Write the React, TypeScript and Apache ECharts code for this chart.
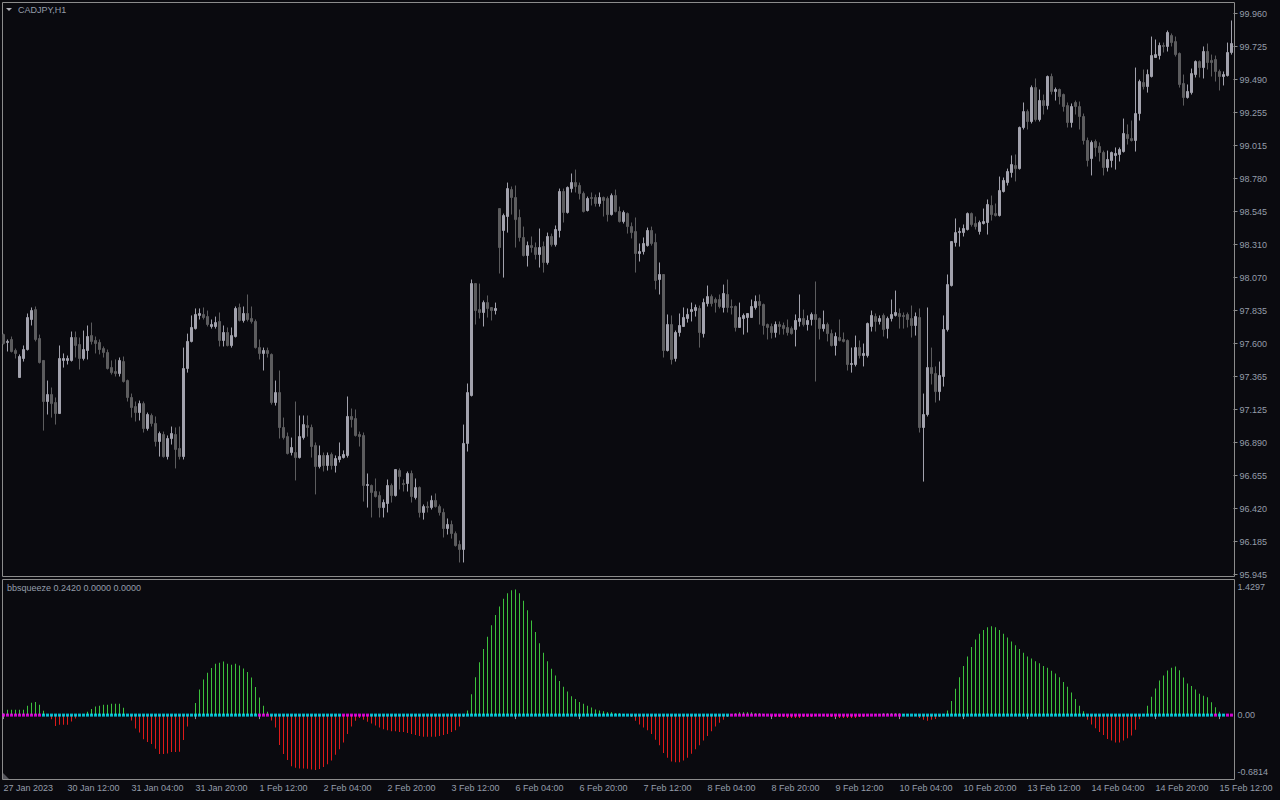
import React, { useEffect, useRef } from 'react';
import * as echarts from 'echarts';

// price axis labels (bottom to top)
const priceTicks = ['95.945','96.185','96.420','96.655','96.890','97.125','97.365','97.600','97.835','98.070','98.310','98.545','98.780','99.015','99.255','99.490','99.725','99.960'];
// time axis labels, one every 16 bars
const timeTicks = ['27 Jan 2023','30 Jan 12:00','31 Jan 04:00','31 Jan 20:00','1 Feb 12:00','2 Feb 04:00','2 Feb 20:00','3 Feb 12:00','6 Feb 04:00','6 Feb 20:00','7 Feb 12:00','8 Feb 04:00','8 Feb 20:00','9 Feb 12:00','10 Feb 04:00','10 Feb 20:00','13 Feb 12:00','14 Feb 04:00','14 Feb 20:00','15 Feb 12:00'];

// [open, close, low, high]
const ohlc: number[][] = [
[97.662,97.598,97.591,97.669],[97.606,97.613,97.541,97.627],[97.627,97.541,97.534,97.648],[97.548,97.527,97.491,97.562],[97.355,97.505,97.355,97.520],
[97.491,97.555,97.469,97.584],[97.555,97.784,97.548,97.813],[97.770,97.834,97.727,97.856],[97.841,97.627,97.613,97.863],[97.634,97.462,97.455,97.662],
[97.477,97.183,96.975,97.477],[97.183,97.233,97.090,97.333],[97.233,97.168,97.068,97.283],[97.176,97.097,97.018,97.212],[97.097,97.491,97.097,97.584],
[97.477,97.491,97.426,97.527],[97.477,97.491,97.448,97.512],[97.477,97.641,97.469,97.684],[97.641,97.584,97.498,97.684],[97.591,97.491,97.412,97.641],
[97.491,97.555,97.477,97.691],[97.548,97.648,97.484,97.727],[97.655,97.613,97.591,97.748],[97.620,97.598,97.527,97.648],[97.606,97.555,97.520,97.627],
[97.562,97.534,97.498,97.577],[97.534,97.419,97.412,97.555],[97.426,97.390,97.376,97.477],[97.398,97.383,97.362,97.484],[97.383,97.477,97.362,97.498],
[97.469,97.326,97.319,97.505],[97.333,97.212,97.183,97.340],[97.212,97.140,97.068,97.240],[97.147,97.104,97.040,97.183],[97.104,97.168,97.047,97.190],
[97.168,96.990,96.961,97.183],[96.990,97.090,96.975,97.104],[97.083,97.026,97.004,97.097],[97.026,96.897,96.861,97.076],[96.897,96.954,96.789,96.968],
[96.947,96.789,96.782,96.968],[96.789,96.918,96.768,96.940],[96.918,96.954,96.875,97.004],[96.947,96.840,96.704,96.997],[96.847,96.789,96.768,97.004],
[96.789,97.419,96.768,97.569],[97.419,97.613,97.390,97.669],[97.613,97.713,97.606,97.799],[97.705,97.806,97.698,97.849],[97.799,97.813,97.770,97.849],
[97.806,97.784,97.770,97.856],[97.791,97.734,97.720,97.834],[97.720,97.734,97.705,97.770],[97.720,97.748,97.705,97.791],[97.756,97.620,97.577,97.820],
[97.620,97.677,97.577,97.727],[97.677,97.584,97.577,97.713],[97.584,97.655,97.569,97.713],[97.648,97.849,97.641,97.863],[97.856,97.763,97.756,97.884],
[97.763,97.813,97.748,97.863],[97.813,97.770,97.756,97.949],[97.777,97.756,97.741,97.863],[97.756,97.569,97.562,97.770],[97.569,97.527,97.484,97.627],
[97.527,97.548,97.405,97.569],[97.548,97.527,97.498,97.569],[97.520,97.176,97.161,97.527],[97.176,97.247,97.154,97.333],[97.247,96.997,96.918,97.405],
[96.997,96.925,96.911,97.068],[96.932,96.811,96.804,96.961],[96.818,96.854,96.797,96.925],[96.818,96.782,96.618,97.183],[96.782,96.932,96.775,97.083],
[96.925,97.018,96.911,97.083],[97.011,96.997,96.932,97.083],[96.997,96.861,96.782,97.018],[96.868,96.718,96.518,96.890],[96.718,96.797,96.704,96.868],
[96.797,96.725,96.682,96.818],[96.725,96.797,96.689,96.818],[96.804,96.725,96.696,96.818],[96.725,96.775,96.675,96.797],[96.768,96.789,96.747,96.890],
[96.782,96.804,96.775,96.833],[96.797,97.076,96.782,97.219],[97.076,97.054,96.997,97.133],[97.061,96.940,96.932,97.126],[96.947,96.932,96.861,96.968],
[96.940,96.582,96.467,96.961],[96.582,96.589,96.424,96.668],[96.582,96.532,96.353,96.589],[96.539,96.503,96.496,96.632],[96.510,96.424,96.353,96.539],
[96.424,96.460,96.353,96.482],[96.453,96.582,96.389,96.625],[96.582,96.510,96.460,96.596],[96.510,96.696,96.503,96.696],[96.689,96.646,96.553,96.704],
[96.596,96.589,96.539,96.625],[96.596,96.668,96.539,96.682],[96.668,96.503,96.460,96.689],[96.496,96.567,96.482,96.632],[96.567,96.389,96.353,96.575],
[96.389,96.431,96.338,96.446],[96.431,96.424,96.389,96.467],[96.424,96.475,96.410,96.510],[96.475,96.431,96.424,96.525],[96.431,96.389,96.367,96.446],
[96.389,96.274,96.210,96.417],[96.274,96.303,96.231,96.346],[96.303,96.238,96.202,96.331],[96.238,96.152,96.145,96.253],[96.160,96.124,96.031,96.188],
[96.124,96.883,96.031,97.018],[96.883,97.247,96.825,97.312],[97.226,98.027,97.219,98.056],[98.027,97.834,97.734,98.027],[97.841,97.820,97.777,98.027],
[97.820,97.891,97.720,97.906],[97.891,97.849,97.784,97.942],[97.856,97.834,97.763,97.856],[97.834,97.849,97.806,97.891],[98.564,98.285,98.099,98.564],
[98.407,98.514,98.070,98.528],[98.507,98.707,98.392,98.750],[98.700,98.643,98.521,98.722],[98.643,98.485,98.285,98.729],[98.500,98.357,98.328,98.557],
[98.357,98.228,98.221,98.435],[98.228,98.299,98.149,98.328],[98.299,98.285,98.249,98.364],[98.285,98.235,98.199,98.321],[98.235,98.285,98.142,98.421],
[98.292,98.178,98.106,98.328],[98.178,98.364,98.163,98.392],[98.364,98.306,98.292,98.385],[98.306,98.414,98.292,98.443],[98.407,98.686,98.357,98.707],
[98.686,98.536,98.464,98.707],[98.536,98.715,98.528,98.722],[98.707,98.750,98.679,98.815],[98.750,98.722,98.679,98.843],[98.729,98.672,98.629,98.750],
[98.672,98.543,98.536,98.686],[98.550,98.636,98.543,98.650],[98.643,98.636,98.586,98.679],[98.643,98.600,98.578,98.664],[98.600,98.643,98.578,98.679],
[98.643,98.622,98.507,98.650],[98.636,98.521,98.471,98.650],[98.521,98.657,98.514,98.672],[98.657,98.543,98.536,98.700],[98.543,98.471,98.464,98.578],
[98.471,98.536,98.457,98.550],[98.528,98.435,98.385,98.536],[98.435,98.392,98.350,98.464],[98.400,98.242,98.106,98.500],[98.242,98.256,98.185,98.314],
[98.256,98.314,98.235,98.357],[98.299,98.407,98.292,98.428],[98.407,98.314,98.299,98.435],[98.321,98.049,97.985,98.385],[98.056,98.092,97.949,98.178],
[98.092,97.548,97.498,98.092],[97.548,97.734,97.541,97.806],[97.734,97.484,97.448,97.799],[97.491,97.677,97.469,97.691],[97.677,97.727,97.648,97.813],
[97.720,97.784,97.720,97.856],[97.777,97.806,97.748,97.849],[97.827,97.841,97.756,97.891],[97.834,97.856,97.791,97.877],[97.849,97.677,97.569,97.870],
[97.669,97.891,97.641,97.920],[97.884,97.934,97.863,98.013],[97.934,97.884,97.863,97.949],[97.913,97.891,97.820,97.927],[97.913,97.863,97.849,97.949],
[97.856,97.956,97.820,98.020],[97.949,97.856,97.820,98.056],[97.863,97.856,97.806,97.913],[97.863,97.713,97.684,97.870],[97.713,97.784,97.713,97.891],
[97.777,97.799,97.662,97.813],[97.784,97.813,97.677,97.813],[97.784,97.863,97.784,97.913],[97.856,97.899,97.841,97.942],[97.899,97.870,97.734,97.949],
[97.877,97.727,97.662,97.884],[97.734,97.713,97.627,97.741],[97.720,97.677,97.634,97.741],[97.677,97.734,97.641,97.756],[97.734,97.720,97.662,97.756],
[97.727,97.705,97.662,97.748],[97.713,97.677,97.655,97.770],[97.705,97.669,97.662,97.720],[97.698,97.763,97.577,97.806],[97.756,97.777,97.720,97.949],
[97.777,97.734,97.720,97.841],[97.734,97.763,97.691,97.799],[97.770,97.806,97.727,97.820],[97.806,97.770,97.326,98.042],[97.777,97.705,97.627,97.784],
[97.705,97.734,97.684,97.834],[97.734,97.669,97.613,97.748],[97.669,97.584,97.577,97.698],[97.584,97.648,97.512,97.677],[97.641,97.620,97.613,97.770],
[97.627,97.613,97.606,97.677],[97.620,97.448,97.405,97.627],[97.448,97.455,97.390,97.569],[97.448,97.569,97.434,97.655],[97.569,97.512,97.491,97.620],
[97.512,97.527,97.434,97.598],[97.512,97.741,97.498,97.748],[97.720,97.799,97.684,97.834],[97.791,97.756,97.684,97.813],[97.756,97.777,97.734,97.799],
[97.799,97.698,97.648,97.813],[97.705,97.777,97.634,97.791],[97.777,97.806,97.756,97.913],[97.799,97.820,97.791,97.977],[97.813,97.791,97.705,97.849],
[97.799,97.791,97.705,97.820],[97.806,97.770,97.713,97.820],[97.777,97.727,97.641,97.870],[97.727,97.791,97.655,97.820],[97.784,96.997,96.961,97.849],
[96.997,97.090,96.610,97.240],[97.090,97.426,97.076,97.856],[97.426,97.383,97.305,97.569],[97.383,97.254,97.176,97.434],[97.254,97.369,97.190,97.469],
[97.362,97.698,97.290,97.799],[97.698,98.020,97.684,98.092],[98.013,98.328,98.006,98.328],[98.321,98.392,98.292,98.493],[98.392,98.400,98.292,98.428],
[98.392,98.421,98.364,98.450],[98.414,98.528,98.407,98.536],[98.528,98.450,98.435,98.536],[98.457,98.435,98.414,98.507],[98.400,98.464,98.378,98.478],
[98.457,98.471,98.450,98.564],[98.464,98.593,98.378,98.629],[98.586,98.521,98.478,98.657],[98.528,98.514,98.507,98.600],[98.514,98.693,98.507,98.793],
[98.686,98.765,98.679,98.786],[98.750,98.829,98.729,98.850],[98.822,98.879,98.786,98.944],[98.872,98.850,98.758,98.951],[98.850,99.144,98.843,99.151],
[99.144,99.258,99.130,99.323],[99.258,99.187,99.130,99.273],[99.187,99.430,99.173,99.445],[99.430,99.201,99.187,99.495],[99.201,99.337,99.187,99.416],
[99.337,99.301,99.237,99.380],[99.301,99.509,99.273,99.516],[99.509,99.402,99.380,99.530],[99.402,99.416,99.337,99.430],[99.416,99.366,99.309,99.423],
[99.380,99.294,99.258,99.387],[99.301,99.180,99.144,99.323],[99.180,99.294,99.144,99.316],[99.323,99.294,99.237,99.337],[99.294,99.223,99.130,99.330],
[99.223,99.051,99.022,99.244],[99.051,98.908,98.865,99.072],[98.922,99.037,98.801,99.051],[99.044,99.001,98.936,99.058],[99.008,98.965,98.901,99.037],
[98.965,98.858,98.801,98.979],[98.858,98.915,98.829,98.979],[98.908,98.965,98.858,98.972],[98.944,98.958,98.843,99.001],[98.951,98.987,98.901,99.001],
[98.972,99.101,98.965,99.208],[99.094,99.065,99.022,99.166],[99.065,99.051,99.044,99.194],[99.051,99.244,98.972,99.573],[99.244,99.473,99.194,99.487],
[99.466,99.437,99.416,99.559],[99.437,99.523,99.394,99.559],[99.509,99.659,99.502,99.795],[99.645,99.666,99.645,99.774],[99.659,99.731,99.631,99.752],
[99.731,99.724,99.681,99.752],[99.724,99.824,99.688,99.838],[99.802,99.752,99.724,99.817],[99.759,99.666,99.652,99.795],[99.674,99.452,99.430,99.681],
[99.459,99.359,99.301,99.523],[99.359,99.402,99.351,99.452],[99.394,99.530,99.380,99.566],[99.523,99.616,99.502,99.624],[99.616,99.573,99.502,99.624],
[99.573,99.688,99.495,99.724],[99.688,99.609,99.559,99.745],[99.624,99.609,99.509,99.666],[99.631,99.545,99.473,99.659],[99.545,99.509,99.409,99.559],
[99.509,99.523,99.445,99.545],[99.516,99.681,99.509,99.752],[99.681,99.745,99.666,99.910]
];

// bbsqueeze momentum histogram, one value per bar
const squeeze: number[] = [
0.02,0.057,0.057,0.057,0.057,0.057,0.099,0.131,0.139,0.110,0.046,-0.005,-0.043,-0.114,-0.103,-0.103,-0.103,-0.068,-0.036,-0.005,
0.005,0.036,0.064,0.092,0.099,0.110,0.110,0.121,0.121,0.121,0.078,-0.005,-0.057,-0.142,-0.185,-0.256,-0.284,-0.306,-0.355,-0.412,
-0.412,-0.405,-0.391,-0.391,-0.387,-0.263,-0.121,0.005,0.128,0.270,0.376,0.448,0.498,0.544,0.554,0.568,0.544,0.533,0.544,0.526,
0.494,0.455,0.398,0.298,0.185,0.099,0.036,-0.057,-0.131,-0.316,-0.412,-0.476,-0.540,-0.558,-0.565,-0.565,-0.568,-0.576,
-0.58,-0.57,-0.55,-0.52,-0.48,-0.42,-0.36,-0.29,-0.2,-0.12,
-0.06,-0.03,-0.05,-0.07,-0.09,-0.11,-0.13,-0.15,-0.16,-0.17,
-0.17,-0.18,-0.18,-0.19,-0.2,-0.21,-0.22,-0.23,-0.23,-0.23,
-0.23,-0.22,-0.21,-0.2,-0.18,-0.16,-0.12,-0.02,
0.05,0.22,0.4,0.56,0.7,0.83,0.95,1.06,1.15,1.23,
1.29,1.32,1.33,1.29,1.21,1.11,1.0,0.88,0.76,0.66,
0.57,0.49,0.42,0.36,0.3,0.25,0.2,0.17,0.14,0.12,
0.1,0.08,0.06,0.05,0.04,0.03,0.03,0.02,0.02,0.01,0.0,
-0.02,-0.06,-0.1,-0.13,-0.16,-0.2,-0.26,-0.32,-0.4,-0.45,
-0.49,-0.5,-0.5,-0.48,-0.45,-0.41,-0.36,-0.32,-0.27,-0.22,
-0.17,-0.12,-0.08,-0.05,
-0.02,0.01,0.02,0.03,0.03,0.03,0.03,0.02,0.02,0.01,
0.0,-0.01,-0.02,-0.02,-0.02,-0.03,-0.03,-0.03,-0.03,-0.02,
-0.02,-0.02,-0.01,-0.01,-0.01,-0.02,-0.02,-0.02,-0.03,-0.03,
-0.03,-0.03,-0.03,-0.02,-0.02,-0.01,0.0,0.01,0.01,0.02,
0.02,0.02,0.02,0.02,0.01,0.01,0.0,-0.01,-0.03,-0.05,
-0.06,-0.05,-0.04,-0.02,0.01,
0.05,0.15,0.28,0.4,0.52,0.62,0.72,0.8,0.86,0.9,
0.93,0.94,0.93,0.9,0.86,0.82,0.78,0.74,0.7,0.66,
0.62,0.6,0.57,0.55,0.52,0.5,0.47,0.44,0.4,0.35,
0.3,0.24,0.17,0.1,0.04,-0.05,-0.1,-0.14,-0.18,
-0.21,-0.252,-0.270,-0.291,-0.291,-0.270,-0.245,-0.217,-0.156,-0.043,
0.005,0.099,0.195,0.281,0.366,0.419,0.472,0.501,0.515,0.476,
0.398,0.334,0.309,0.270,0.227,0.206,0.188,0.135,0.082,0.036,
0.01,0.005,0.0
];

// bar index ranges where the squeeze dot is magenta (others cyan)
const squeezeOnRanges: number[][] = [[0, 9], [64, 66], [85, 91], [182, 224], [303, 303], [306, 307]];

const PRICE_MIN = 95.945;
const PRICE_MAX = 99.960;
const IND_MIN = -0.6814;
const IND_MAX = 1.4297;

const TEXT = '#959daa';
const FRAME = '#8c8c8c';
const FONT = 'Liberation Sans';

function buildCategories(n: number): string[] {
  const out: string[] = [];
  let t = Date.UTC(2023, 0, 27, 20);
  while (out.length < n) {
    const d = new Date(t);
    const wd = d.getUTCDay();
    if (wd !== 0 && wd !== 6) {
      out.push(d.toISOString().slice(0, 16).replace('T', ' '));
    }
    t += 3600 * 1000;
  }
  return out;
}

export default function App() {
  const ref = useRef<HTMLDivElement>(null);
  useEffect(() => {
    if (!ref.current) return;
    const chart = echarts.init(ref.current, null, { renderer: 'svg' });
    const cats = buildCategories(ohlc.length);
    const step = (PRICE_MAX - PRICE_MIN) / (priceTicks.length - 1);
    const priceVals = priceTicks.map((_, k) => PRICE_MIN + k * step);
    const isOn = (i: number) => squeezeOnRanges.some(([a, b]) => i >= a && i <= b);
    const dots = cats.map((_, i) => [i, 0]);
    const span = IND_MAX - IND_MIN;
    const topLabelVal = IND_MIN + span * (192.5 / 199.5);
    const botLabelVal = IND_MIN + span * (7.5 / 199.5);

    const option: any = {
      animation: false,
      backgroundColor: '#0a0a0f',
      grid: [
        { left: 1.5, top: 13.5, width: 1232, height: 561 },
        { left: 1.5, top: 580, width: 1232, height: 199.5 },
      ],
      xAxis: [
        { type: 'category', gridIndex: 0, data: cats, boundaryGap: true, show: false },
        {
          type: 'category', gridIndex: 1, data: cats, boundaryGap: true,
          axisLine: { show: false },
          axisTick: { show: true, alignWithLabel: true, length: 4, interval: (i: number) => i % 16 === 0, lineStyle: { color: FRAME } },
          axisLabel: {
            interval: (i: number) => i % 16 === 0,
            formatter: (_v: string, i: number) => timeTicks[Math.round(i / 16)] || '',
            align: 'left', color: TEXT, fontSize: 9, fontFamily: FONT, margin: 4,
          },
          splitLine: { show: false },
        },
      ],
      yAxis: [
        {
          type: 'value', gridIndex: 0, position: 'right', min: PRICE_MIN, max: PRICE_MAX,
          splitLine: { show: false }, axisLine: { show: false },
          axisTick: { show: true, length: 4, customValues: priceVals, lineStyle: { color: FRAME } },
          axisLabel: {
            customValues: priceVals,
            formatter: (v: number) => priceTicks[Math.round((v - PRICE_MIN) / step)] || '',
            color: TEXT, fontSize: 9, fontFamily: FONT, margin: 6,
          },
        },
        {
          type: 'value', gridIndex: 1, position: 'right', min: IND_MIN, max: IND_MAX,
          splitLine: { show: false }, axisLine: { show: false }, axisTick: { show: false },
          axisLabel: {
            customValues: [botLabelVal, 0, topLabelVal],
            formatter: (v: number) => (v > 1 ? '1.4297' : v < -0.3 ? '-0.6814' : '0.00'),
            color: TEXT, fontSize: 9, fontFamily: FONT, margin: 4,
          },
        },
      ],
      series: [
        {
          type: 'candlestick', xAxisIndex: 0, yAxisIndex: 0, data: ohlc, barWidth: 2,
          itemStyle: { color: '#a2a2ad', color0: '#5c5c5e', borderColor: '#a2a2ad', borderColor0: '#5c5c5e', borderWidth: 1 },
        },
        {
          type: 'bar', xAxisIndex: 1, yAxisIndex: 1, data: squeeze, barWidth: 1,
          itemStyle: { color: (p: any) => (p.value >= 0 ? '#3cc03c' : '#dc1a1a') },
        },
        {
          type: 'scatter', xAxisIndex: 1, yAxisIndex: 1, data: dots, symbol: 'rect', symbolSize: 3,
          itemStyle: { color: (p: any) => (isOn(p.dataIndex) ? '#ff00ff' : '#00e8ff') },
        },
      ],
      graphic: [
        { type: 'rect', silent: true, shape: { x: 2.5, y: 2.5, width: 1232, height: 574 }, style: { fill: 'none', stroke: FRAME, lineWidth: 1 } },
        { type: 'rect', silent: true, shape: { x: 2.5, y: 579.5, width: 1232, height: 200 }, style: { fill: 'none', stroke: FRAME, lineWidth: 1 } },
        { type: 'polygon', silent: true, shape: { points: [[6, 8], [12, 8], [9, 11]] }, style: { fill: '#b0b0b8' } },
        { type: 'text', silent: true, x: 18, y: 10, style: { text: 'CADJPY,H1', fill: TEXT, fontSize: 9, fontFamily: FONT, verticalAlign: 'middle' } },
        { type: 'text', silent: true, x: 7, y: 588, style: { text: 'bbsqueeze 0.2420 0.0000 0.0000', fill: TEXT, fontSize: 9, fontFamily: FONT, verticalAlign: 'middle' } },
        { type: 'polygon', silent: true, shape: { points: [[3, 773], [3, 779], [9, 779]] }, style: { fill: '#55555c' } },
      ],
    };
    chart.setOption(option);
    return () => chart.dispose();
  }, []);
  return <div ref={ref} style={{ position: 'fixed', left: 0, top: 0, width: 1280, height: 800 }} />;
}
